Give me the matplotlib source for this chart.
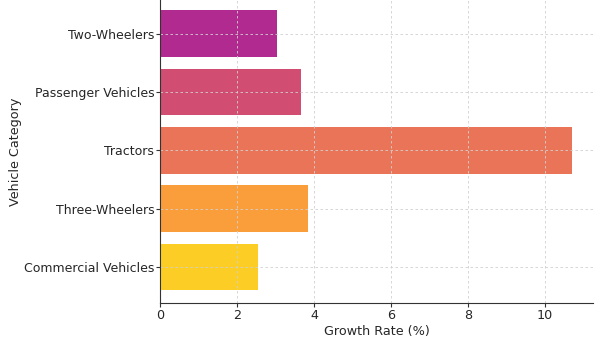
import numpy as np
import matplotlib.pyplot as plt

categories = ["Commercial Vehicles", "Three-Wheelers", "Tractors",
              "Passenger Vehicles", "Two-Wheelers"]
growth = [2.55, 3.85, 10.7, 3.65, 3.05]

colors = plt.cm.plasma(np.linspace(0.9, 0.4, len(categories)))

fig = plt.figure(figsize=(6, 3.38), dpi=100)
ax = fig.add_axes([0.2667, 0.1036, 0.7212, 0.8964])

ax.barh(categories, growth, color=colors, height=0.8)
ax.set_ylim(-0.62, 4.58)

ax.set_xlabel("Growth Rate (%)", fontsize=9.2, labelpad=2, color="#262626")
ax.set_ylabel("Vehicle Category", fontsize=9.2, labelpad=1, color="#262626")
ax.tick_params(labelsize=9.0, length=3, pad=1.2, colors="#333333", labelcolor="#262626")
ax.tick_params(axis="x", labelsize=9.2)
ax.grid(True, linestyle=(0, (3, 3)), color="#d0d0d0", linewidth=0.6)
for s in ["top", "right"]:
    ax.spines[s].set_visible(False)
for s in ["left", "bottom"]:
    ax.spines[s].set_color("#333333")

fig.savefig("out.png", dpi=100)
